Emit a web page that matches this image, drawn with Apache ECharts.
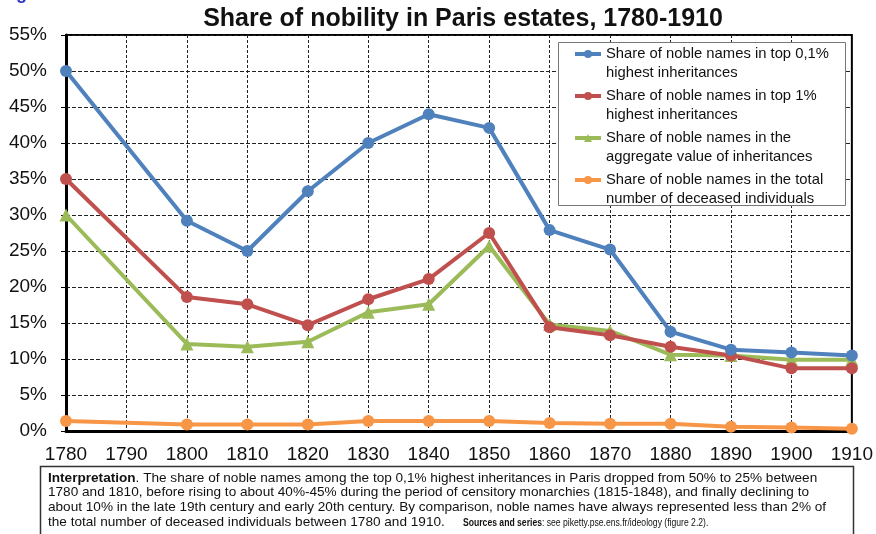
<!DOCTYPE html>
<html>
<head>
<meta charset="utf-8">
<script src="https://cdn.jsdelivr.net/npm/echarts@6/dist/echarts.min.js"></script>
<style>
html,body{margin:0;padding:0;background:#fff;}
#chart{width:876px;height:534px;}
</style>
</head>
<body>
<div id="chart"></div>
<script>
// ---- data ----
const years = [1780, 1800, 1810, 1820, 1830, 1840, 1850, 1860, 1870, 1880, 1890, 1900, 1910];
const top01 = [50, 29.2, 25.0, 33.3, 40.0, 44.0, 42.1, 27.9, 25.2, 13.8, 11.3, 10.9, 10.5];
const top1 = [35, 18.6, 17.6, 14.7, 18.3, 21.1, 27.5, 14.4, 13.3, 11.7, 10.5, 8.7, 8.7];
const aggregate = [30, 12.1, 11.7, 12.4, 16.5, 17.6, 25.7, 14.8, 13.9, 10.6, 10.5, 9.9, 9.9];
const deceased = [1.4, 0.9, 0.9, 0.9, 1.4, 1.4, 1.4, 1.1, 1.0, 1.0, 0.6, 0.5, 0.3];
const seriesNames = [
  'Share of noble names in top 0,1%\nhighest inheritances',
  'Share of noble names in top 1%\nhighest inheritances',
  'Share of noble names in the\naggregate value of inheritances',
  'Share of noble names in the total\nnumber of deceased individuals'
];
const titleText = 'Share of nobility in Paris estates, 1780-1910';
const noteLines = [
  '{b|Interpretation}. The share of noble names among the top 0,1% highest inheritances in Paris dropped from 50% to 25% between',
  '1780 and 1810, before rising to about 40%-45% during the period of censitory monarchies (1815-1848), and finally declining to',
  'about 10% in the late 19th century and early 20th century. By comparison, noble names have always represented less than 2% of',
  'the total number of deceased individuals between 1780 and 1910.'
];
const sourcesText = '{s|Sources and series}{t|: see piketty.pse.ens.fr/ideology (figure 2.2).}';

const colors = ['#4F81BD', '#C0504D', '#9BBB59', '#F79646'];
const valuesList = [top01, top1, aggregate, deceased];
const symbols = ['circle', 'circle', 'triangle', 'circle'];

const FONT = '"Liberation Sans", Arial, sans-serif';

const chart = echarts.init(document.getElementById('chart'), null, {renderer: 'canvas'});

const series = valuesList.map((vals, i) => ({
  name: seriesNames[i],
  type: 'line',
  data: years.map((y, k) => [y, vals[k]]),
  symbol: symbols[i],
  symbolSize: symbols[i] === 'triangle' ? 13 : 12,
  clip: false,
  lineStyle: {color: colors[i], width: 4},
  itemStyle: {color: colors[i]},
  z: 2 + (3 - i) * 0.1
}));

const noteGraphics = noteLines.map((t, i) => ({
  type: 'text',
  left: 48,
  top: 471 + i * 14.7,
  z: 20,
  style: {
    text: t,
    font: '13.6px ' + FONT,
    fill: '#111',
    rich: {
      b: {font: 'bold 13.6px ' + FONT, fill: '#111'}
    }
  }
}));
noteGraphics.push({
  type: 'text',
  x: 463,
  y: 517.5,
  scaleX: 0.82,
  z: 20,
  style: {
    text: sourcesText,
    font: '10.5px ' + FONT,
    fill: '#111',
    rich: {
      s: {font: 'bold 10.5px ' + FONT, fill: '#111'},
      t: {font: '10.5px ' + FONT, fill: '#111'}
    }
  }
});

chart.setOption({
  animation: false,
  backgroundColor: '#fff',
  color: colors,
  title: {
    text: titleText,
    left: 458,
    textAlign: 'center',
    top: 2,
    textStyle: {fontFamily: FONT, fontWeight: 'bold', fontSize: 25, color: '#111'}
  },
  grid: {
    left: 66, right: 18, top: 35, bottom: 103,
    show: true, borderColor: '#000', borderWidth: 2, backgroundColor: 'transparent'
  },
  xAxis: {
    type: 'value',
    min: 1780, max: 1910, interval: 10,
    axisLine: {show: true, onZero: false, lineStyle: {color: '#000', width: 3}},
    axisTick: {show: false},
    axisLabel: {
      margin: 14, color: '#111', fontFamily: FONT, fontSize: 19,
      formatter: v => String(v), showMaxLabel: true, showMinLabel: true
    },
    splitLine: {show: true, lineStyle: {color: '#222', width: 1, type: [3, 2]}}
  },
  yAxis: {
    type: 'value',
    min: 0, max: 55, interval: 5,
    axisLine: {show: true, lineStyle: {color: '#000', width: 3}},
    axisTick: {show: true, length: 5, lineStyle: {color: '#000', width: 1}},
    axisLabel: {margin: 19, color: '#111', fontFamily: FONT, fontSize: 19, formatter: '{value}%'},
    splitLine: {show: true, lineStyle: {color: '#222', width: 1, type: [4, 2]}}
  },
  legend: {
    orient: 'vertical',
    left: 573,
    top: 25.5,
    padding: 0,
    itemGap: -15,
    itemWidth: 26,
    itemHeight: 10,
    z: 30,
    selectedMode: false,
    data: seriesNames,
    formatter: n => ' \n' + n,
    lineStyle: {width: 4},
    textStyle: {fontFamily: FONT, fontSize: 14.8, color: '#111', lineHeight: 19}
  },
  graphic: [
    {
      type: 'rect', z: 25,
      shape: {x: 558.5, y: 42.5, width: 287, height: 163},
      style: {fill: '#fff', stroke: '#777', lineWidth: 1}
    },
    {
      type: 'rect', z: 15,
      shape: {x: 40.5, y: 466.5, width: 813, height: 80},
      style: {fill: '#fff', stroke: '#333', lineWidth: 1.5}
    },
    {
      type: 'text', left: 0, top: -15, z: 20,
      style: {text: 'Figure 2.2.', font: 'bold 18px ' + FONT, fill: '#3030c8'}
    }
  ].concat(noteGraphics),
  series: series
});
</script>
</body>
</html>
